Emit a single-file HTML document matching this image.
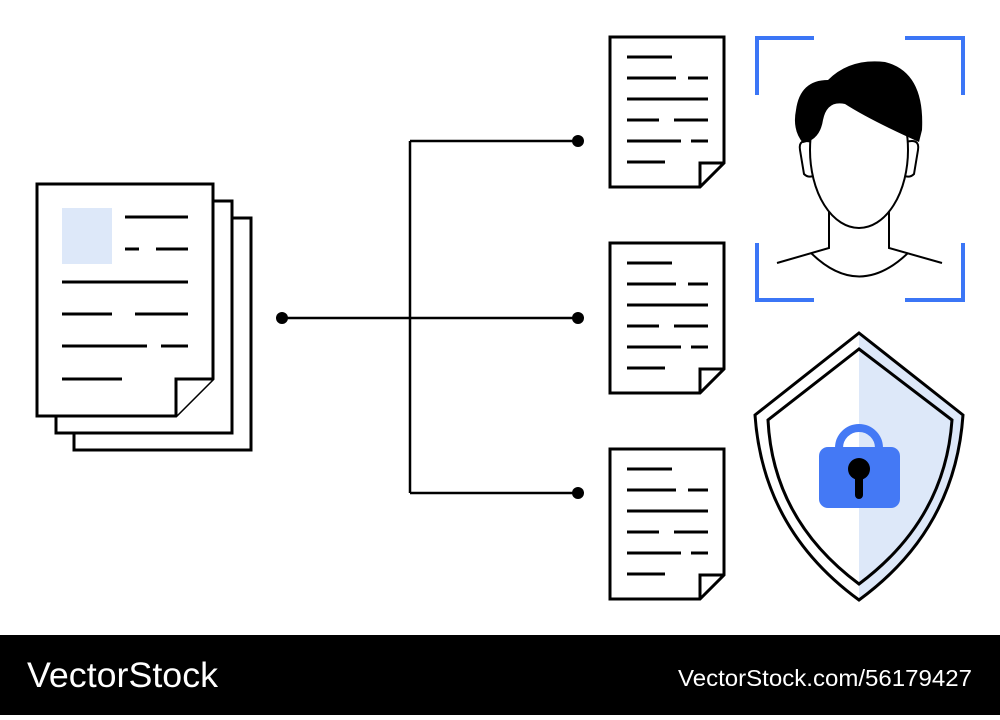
<!DOCTYPE html>
<html><head><style>body{margin:0;width:1000px;height:715px;overflow:hidden;background:#fff;font-family:"Liberation Sans",sans-serif}</style></head><body>
<svg width="1000" height="715" viewBox="0 0 1000 715" xmlns="http://www.w3.org/2000/svg">
<g stroke="#000" stroke-width="3" fill="#fff">
<rect x="74" y="218" width="177" height="232"/>
<rect x="56" y="201" width="176" height="232"/>
<path d="M37 184H213V379L176 416H37Z"/>
<path d="M176 416V379H213"/>
</g>
<rect x="62" y="208" width="50" height="56" fill="#dde8f9"/>
<g stroke="#000" stroke-width="3">
<path d="M125 217H188M125 249H139M156 249H188M62 282H188M62 314H112M135 314H188M62 346H147M161 346H188M62 379H122"/>
</g>
<g id="d">
<path d="M610 37H724V163L700 187H610Z" fill="#fff" stroke="#000" stroke-width="3"/>
<path d="M700 187V163H724" fill="none" stroke="#000" stroke-width="3"/>
<path d="M627 57H672M627 78H676M688 78H708M627 99H708M627 120H659M674 120H708M627 141H681M691 141H708M627 162H665" stroke="#000" stroke-width="3"/>
</g>
<use href="#d" transform="translate(0,206)"/>
<use href="#d" transform="translate(0,412)"/>
<g stroke="#000" stroke-width="2.5" fill="none">
<path d="M282 318H578M410 141V493M410 141H578M410 493H578"/>
</g>
<g fill="#000"><circle cx="282" cy="318" r="6"/><circle cx="578" cy="318" r="6"/><circle cx="578" cy="141" r="6"/><circle cx="578" cy="493" r="6"/></g>
<g stroke="#3b76f6" stroke-width="4" fill="none">
<path d="M814 38H757V95M905 38H963V95M757 243V300H814M963 243V300H905"/>
</g>
<g stroke="#000" stroke-width="2" fill="#fff">
<path d="M829 212V248L777 263M889 212V248L942 263"/>
<path d="M811 253Q859 300 908 253" fill="none"/>
<path d="M812 142Q798 138 800 150L804 174Q808 178 813 176Z"/>
<path d="M906 142Q920 138 918 150L914 174Q910 178 905 176Z"/>
<ellipse cx="859" cy="150" rx="49" ry="78"/>
</g>
<path d="M796 110Q800 80 828 80Q850 58 885 62Q925 72 922 130L919 142Q870 120 845 104Q827 100 823 120Q820 140 803 143Q792 130 796 110Z" fill="#000"/>
<path d="M859 333L963 415Q955 530 859 600Q763 530 755 415Z" fill="#fff"/>
<path d="M859 333L963 415Q955 530 859 600Z" fill="#dde8f9"/>
<path d="M859 349L952 420Q945 520 859 584Q773 520 768 420Z" fill="none" stroke="#000" stroke-width="3"/>
<path d="M859 333L963 415Q955 530 859 600Q763 530 755 415Z" fill="none" stroke="#000" stroke-width="3"/>
<circle cx="859" cy="448" r="20" fill="none" stroke="#4479f5" stroke-width="8"/>
<rect x="819" y="447" width="81" height="61" rx="9" fill="#4479f5"/>
<circle cx="859" cy="469" r="11" fill="#000"/>
<path d="M859 472V495" stroke="#000" stroke-width="8" stroke-linecap="round"/>
<rect x="0" y="635" width="1000" height="80" fill="#000"/>
<text x="27" y="687" fill="#fff" font-size="35" textLength="191" lengthAdjust="spacingAndGlyphs" font-family="Liberation Sans, sans-serif">VectorStock</text>
<text x="678" y="686" fill="#fff" font-size="23" textLength="294" lengthAdjust="spacingAndGlyphs" font-family="Liberation Sans, sans-serif">VectorStock.com/56179427</text>
</svg>
</body></html>
